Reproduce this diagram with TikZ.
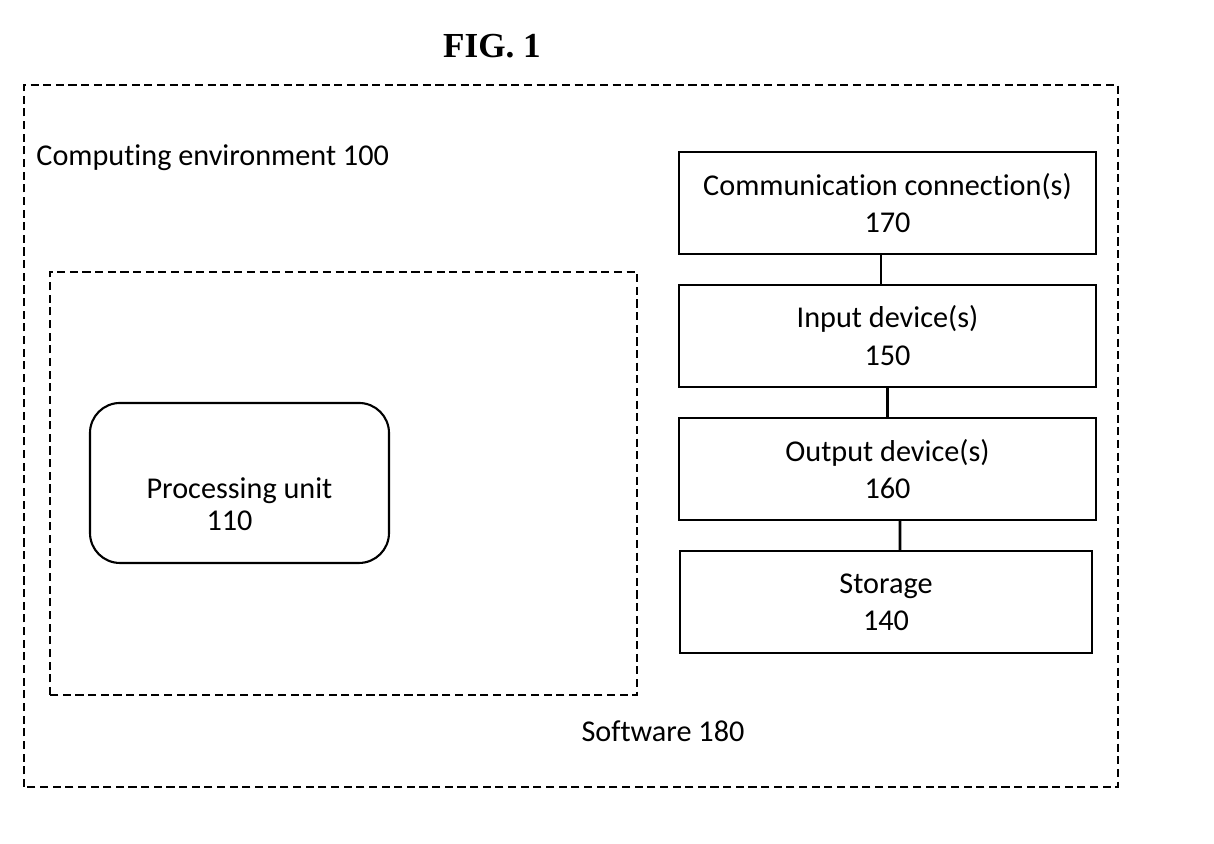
\documentclass[tikz,border=0pt]{standalone}
\usepackage{fontspec}
\setmainfont{Carlito}[Ligatures=NoCommon]
\newfontfamily\figfont{Liberation Serif}
\usetikzlibrary{positioning}
\tikzset{
    every node/.style={font=\fontsize{8.6}{10.6}\selectfont},
}

\begin{document}
\begin{tikzpicture}[
        envbox/.style={draw,line width=0.5pt,dash pattern=on 2.3pt off 1.3pt},
        devbox/.style={draw,line width=0.6pt,minimum width=4.17cm,minimum height=1.02cm,align=center,inner sep=0pt},
        pubox/.style={draw,line width=0.6pt,rounded corners=0.3cm,minimum width=2.99cm,minimum height=1.6cm},
        link/.style={line width=0.85pt}
    ]
    \useasboundingbox (0,0) rectangle (12.14,8.44);

    % titolo
    \node[font=\figfont\bfseries\fontsize{10}{12}\selectfont] (fig) at (4.92,7.98) {FIG. 1};

    % ambiente di calcolo e software
    \draw[envbox] (0.24,0.57) rectangle (11.18,7.59);
    \draw[envbox] (0.50,1.49) rectangle (6.37,5.72);
    \node[anchor=west] (env) at (0.24,6.86) {Computing environment 100};
    \node (sw) at (6.63,1.13) {Software 180};

    % unita di elaborazione
    \node[pubox] (pu) at (2.395,3.61) {};
    \node[align=center,font=\fontsize{8.6}{9.2}\selectfont] (putext) at (2.395,3.40) {Processing unit\\110\hspace*{0.2cm}};

    % dispositivi a destra
    \node[devbox] (comm) at (8.875,6.41) {Communication connection(s)\\170};
    \node[devbox,below=0.285cm of comm] (input) {Input device(s)\\150};
    \node[devbox,below=0.295cm of input] (output) {Output device(s)\\160};
    \node[devbox,minimum width=4.12cm,below=0.29cm of output,xshift=-0.015cm] (storage) {Storage\\140};

    % collegamenti
    \draw[link] ([xshift=-0.065cm]comm.south) -- ([xshift=-0.065cm]input.north);
    \draw[link] (input.south) -- (output.north);
    \draw[link] ([xshift=0.125cm]output.south) -- ([xshift=0.14cm]storage.north);
\end{tikzpicture}
\end{document}
